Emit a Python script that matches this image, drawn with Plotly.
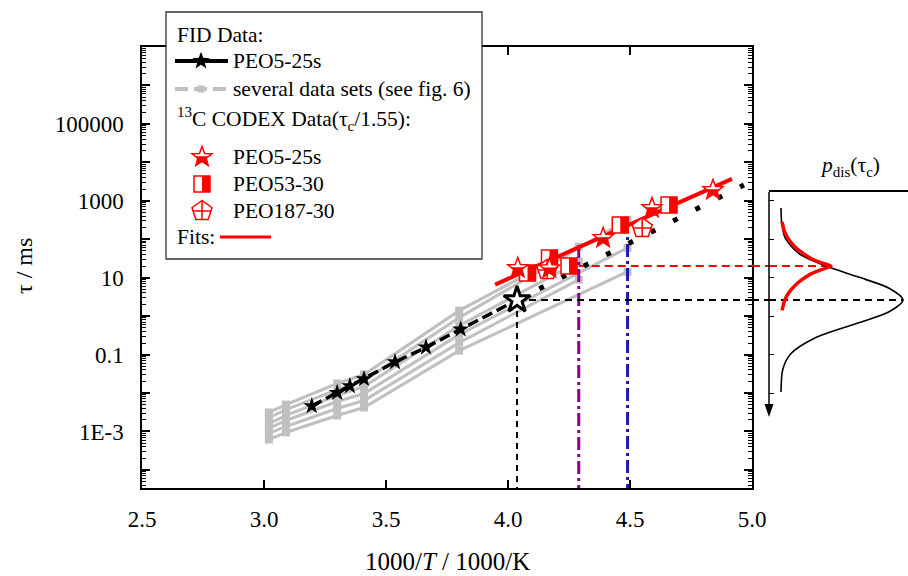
import numpy as np
import plotly.graph_objects as go

# ---------------- data ----------------
# FID data PEO5-25s (1000/T, tau in ms)
fid_x = [3.196, 3.300, 3.352, 3.410, 3.537, 3.664, 3.806, 4.037]
fid_tau = [0.0046, 0.0102, 0.0152, 0.0232, 0.064, 0.155, 0.455, 2.63]
fid_open_x = [4.037]
fid_open_tau = [2.63]
# dotted extrapolation of the FID data
ext_x = [4.037, 4.967]
ext_tau = [2.63, 2570]

# several data sets (see fig. 6)
gray_x_short = [3.02, 3.09, 3.30, 3.41, 3.80, 4.29]
gray_x_long = [3.02, 3.09, 3.30, 3.41, 3.80, 4.49]
gray_1 = [0.00312, 0.00502, 0.0177, 0.0303, 1.39, 63.8]
gray_2 = [0.00231, 0.00372, 0.0123, 0.0211, 0.914, 321]
gray_3 = [0.00161, 0.00261, 0.00861, 0.0148, 0.566, 26.1]
gray_4 = [0.00120, 0.00193, 0.00601, 0.0097, 0.330, 60.1]
gray_5 = [0.000887, 0.00135, 0.00395, 0.00638, 0.205, 8.87]
gray_6 = [0.000619, 0.000942, 0.00261, 0.00420, 0.127, 14.3]

# 13C CODEX data (tau_c / 1.55)
codex5_x = [4.04, 4.17, 4.39, 4.59, 4.84]
codex5_tau = [17.9, 17.5, 108, 650, 1910]
codex53_x = [4.08, 4.17, 4.25, 4.46, 4.66]
codex53_tau = [13.2, 32.5, 20.1, 235, 778]
codex187_x = [4.16, 4.55]
codex187_tau = [15.9, 195]

# fit line
fit_x = [3.947, 4.918]
fit_tau = [6.6, 3700]

# reference lines
ref_black_x = 4.037
ref_black_tau = 2.63
ref_purple_x = 4.29
ref_purple_top = 71
ref_blue_x = 4.49
ref_blue_top = 316
ref_red_tau = 20

# distribution p_dis(tau_c)
dist_black_tau = [646, 263, 105, 41.7, 20, 10.5, 5.25, 2.63, 1.32, 0.66, 0.263, 0.105, 0.0417, 0.0107]
dist_black_p = [0.0, 0.006, 0.036, 0.15, 0.37, 0.63, 0.89, 1.0, 0.89, 0.63, 0.27, 0.08, 0.015, 0.0]
dist_red_tau = [282, 158, 100, 63, 44.7, 31.6, 25.1, 20, 15.8, 12.6, 8.9, 6.3, 3.98, 2.51, 1.41]
dist_red_p = [0.008, 0.029, 0.062, 0.115, 0.172, 0.246, 0.32, 0.41, 0.32, 0.246, 0.172, 0.115, 0.062, 0.029, 0.008]

x_ticks = [2.5, 3.0, 3.5, 4.0, 4.5, 5.0]
y_label_vals = [1e-3, 1e-1, 1e1, 1e3, 1e5]
y_label_text = ["1E-3", "0.1", "10", "1000", "100000"]
y_unlabeled_vals = [1e-4, 1e-2, 1e0, 1e2, 1e4, 1e6]

# ---------------- layout geometry ----------------
W, H = 908, 576
ML, MR, MT, MB = 142, 0, 47, 88
PW = W - ML - MR
PH = H - MT - MB
MAIN_R = 752
INSET_L, INSET_T, INSET_B = 769, 192, 417
Y_RANGE = [-4.47, 7.0]
X_RANGE = [2.5, 5.0]
P_ZERO_PX, P_ONE_PX = 781, 903

def pxp(px):
    return (px - ML) / PW

def pyp(py):
    return (H - MB - py) / PH

main_dom = [0, pxp(MAIN_R)]
inset_dom_x = [pxp(INSET_L), 1.0]
inset_dom_y = [pyp(INSET_B), pyp(INSET_T)]
span = Y_RANGE[1] - Y_RANGE[0]
y2_range = [Y_RANGE[0] + inset_dom_y[0] * span, Y_RANGE[0] + inset_dom_y[1] * span]
p_scale = P_ONE_PX - P_ZERO_PX
x2_range = [(INSET_L - P_ZERO_PX) / p_scale, (W - P_ZERO_PX) / p_scale]
y_bottom = 10 ** Y_RANGE[0]

RED = "#FF0000"
GRAY = "#C0C0C0"
PURPLE = "#8B008B"
BLUE = "#1A1AB0"
FONT = "Liberation Serif, Times New Roman, serif"
TICK_SIZE = 23
TITLE_SIZE = 25
LEG_SIZE = 21.5

fig = go.Figure()

# gray data sets
for xs, ys in [(gray_x_short, gray_1), (gray_x_long, gray_2), (gray_x_short, gray_3),
               (gray_x_long, gray_4), (gray_x_short, gray_5), (gray_x_long, gray_6)]:
    fig.add_trace(go.Scatter(x=xs, y=ys, mode="lines+markers",
                             line=dict(color=GRAY, width=3),
                             marker=dict(symbol="square", size=8, color=GRAY),
                             showlegend=False, hoverinfo="skip"))

# reference vertical lines
fig.add_trace(go.Scatter(x=[ref_black_x, ref_black_x], y=[ref_black_tau, y_bottom], mode="lines",
                         line=dict(color="black", width=2, dash="6px,5px"), showlegend=False))
fig.add_trace(go.Scatter(x=[ref_purple_x, ref_purple_x], y=[ref_purple_top, y_bottom], mode="lines",
                         line=dict(color=PURPLE, width=3, dash="13px,4px,3px,4px"), showlegend=False))
fig.add_trace(go.Scatter(x=[ref_blue_x, ref_blue_x], y=[ref_blue_top, y_bottom], mode="lines",
                         line=dict(color=BLUE, width=3, dash="13px,4px,3px,4px"), showlegend=False))
# horizontal dashed lines (main part)
fig.add_trace(go.Scatter(x=[ref_black_x, X_RANGE[1]], y=[ref_black_tau, ref_black_tau], mode="lines",
                         line=dict(color="black", width=2, dash="7px,5px"), showlegend=False))
fig.add_trace(go.Scatter(x=[ref_purple_x, X_RANGE[1]], y=[ref_red_tau, ref_red_tau], mode="lines",
                         line=dict(color=RED, width=2, dash="8px,5px"), showlegend=False))

# dotted extrapolation
fig.add_trace(go.Scatter(x=ext_x, y=ext_tau, mode="lines",
                         line=dict(color="black", width=5, dash="5px,20px"), showlegend=False))
# FID line + stars
fig.add_trace(go.Scatter(x=fid_x, y=fid_tau, mode="lines",
                         line=dict(color="black", width=3.5, dash="11px,5px"), showlegend=False))
fig.add_trace(go.Scatter(x=fid_x[:-1], y=fid_tau[:-1], mode="markers",
                         marker=dict(symbol="star", size=13, color="black"), showlegend=False))
fig.add_trace(go.Scatter(x=fid_open_x, y=fid_open_tau, mode="markers",
                         marker=dict(symbol="star", size=20, color="white",
                                     line=dict(color="black", width=3)), showlegend=False))
# fit
fig.add_trace(go.Scatter(x=fit_x, y=fit_tau, mode="lines",
                         line=dict(color=RED, width=4), showlegend=False))

# inset curves
fig.add_trace(go.Scatter(x=[x2_range[0], 1.0], y=[ref_black_tau, ref_black_tau], xaxis="x2", yaxis="y2",
                         mode="lines", line=dict(color="black", width=2, dash="7px,5px"), showlegend=False))
fig.add_trace(go.Scatter(x=[x2_range[0], dist_red_p[7]], y=[ref_red_tau, ref_red_tau], xaxis="x2", yaxis="y2",
                         mode="lines", line=dict(color=RED, width=2, dash="8px,5px"), showlegend=False))
fig.add_trace(go.Scatter(x=dist_black_p, y=dist_black_tau, xaxis="x2", yaxis="y2", mode="lines",
                         line=dict(color="black", width=1.6, shape="spline", smoothing=0.8), showlegend=False))
fig.add_trace(go.Scatter(x=dist_red_p, y=dist_red_tau, xaxis="x2", yaxis="y2", mode="lines",
                         line=dict(color=RED, width=3.5, shape="spline", smoothing=0.6), showlegend=False))

# ---------------- marker shapes ----------------
def star_vertices(R, ratio=0.42):
    pts = []
    for k in range(10):
        ang = np.pi / 2 + k * np.pi / 5
        rr = R if k % 2 == 0 else R * ratio
        pts.append((rr * np.cos(ang), rr * np.sin(ang)))
    return pts

def clip_below(pts, c):
    out = []
    n = len(pts)
    for i in range(n):
        p, q = pts[i], pts[(i + 1) % n]
        pin, qin = p[1] <= c, q[1] <= c
        if pin:
            out.append(p)
        if pin != qin:
            t = (c - p[1]) / (q[1] - p[1])
            out.append((p[0] + t * (q[0] - p[0]), c))
    return out

def to_path(pts, close=True):
    s = "M " + " L ".join(f"{x:.2f},{y:.2f}" for x, y in pts)
    return s + (" Z" if close else "")

def marker_shapes(kind, xa, ya, xref, yref):
    base = dict(type="path", xref=xref, yref=yref, xsizemode="pixel", ysizemode="pixel",
                xanchor=xa, yanchor=ya, layer="above")
    out = []
    if kind == "star":
        v = star_vertices(10.5, 0.42)
        out.append(dict(path=to_path(v), fillcolor="white", line=dict(width=0), **base))
        out.append(dict(path=to_path(clip_below(v, 0.8)), fillcolor=RED, line=dict(width=0), **base))
        out.append(dict(path=to_path(v), fillcolor="rgba(0,0,0,0)", line=dict(color=RED, width=1.5), **base))
    elif kind == "square":
        h = 8
        sq = [(-h, -h), (h, -h), (h, h), (-h, h)]
        out.append(dict(path=to_path(sq), fillcolor="white", line=dict(width=0), **base))
        out.append(dict(path=to_path([(0, -h), (h, -h), (h, h), (0, h)]), fillcolor=RED, line=dict(width=0), **base))
        out.append(dict(path=to_path(sq), fillcolor="rgba(0,0,0,0)", line=dict(color=RED, width=1.5), **base))
    elif kind == "pentagon":
        R = 10.5
        v = [(R * np.cos(np.pi / 2 + k * 2 * np.pi / 5), R * np.sin(np.pi / 2 + k * 2 * np.pi / 5)) for k in range(5)]
        out.append(dict(path=to_path(v), fillcolor="white", line=dict(color=RED, width=1.5), **base))
        cross = f"M 0,{R:.2f} L 0,{-R*np.cos(np.pi/5):.2f} M {-0.85*R:.2f},0 L {0.85*R:.2f},0"
        out.append(dict(path=cross, line=dict(color=RED, width=1.5), **base))
    elif kind == "blackstar":
        v = star_vertices(9.2, 0.42)
        out.append(dict(path=to_path(v), fillcolor="black", line=dict(width=0), **base))
    elif kind == "graysquare":
        h = 3.5
        out.append(dict(path=to_path([(-h, -h), (h, -h), (h, h), (-h, h)]), fillcolor=GRAY, line=dict(width=0), **base))
    elif kind == "arrowhead":
        out.append(dict(path="M 0,0 L -4.5,13 L 4.5,13 Z", fillcolor="black", line=dict(width=0), **base))
    return out

shapes = []
for xv, tv in zip(codex53_x, codex53_tau):
    shapes += marker_shapes("square", xv, tv, "x", "y")
for xv, tv in zip(codex187_x, codex187_tau):
    shapes += marker_shapes("pentagon", xv, tv, "x", "y")
for xv, tv in zip(codex5_x, codex5_tau):
    shapes += marker_shapes("star", xv, tv, "x", "y")

# gap pieces of the horizontal dashed lines between main plot and inset
shapes.append(dict(type="line", xref="paper", yref="y", x0=main_dom[1], x1=inset_dom_x[0],
                   y0=ref_black_tau, y1=ref_black_tau, line=dict(color="black", width=2, dash="7px,5px")))
shapes.append(dict(type="line", xref="paper", yref="y", x0=main_dom[1], x1=inset_dom_x[0],
                   y0=ref_red_tau, y1=ref_red_tau, line=dict(color=RED, width=2, dash="8px,5px")))

# inset axis line with arrow pointing down
shapes.append(dict(type="line", xref="paper", yref="paper", x0=inset_dom_x[0], x1=inset_dom_x[0],
                   y0=inset_dom_y[1], y1=pyp(INSET_B - 8), line=dict(color="black", width=1.5), layer="above"))
shapes += marker_shapes("arrowhead", inset_dom_x[0], inset_dom_y[0], "paper", "paper")

# ---------------- manual legend ----------------
shapes.append(dict(type="rect", xref="paper", yref="paper", x0=pxp(166), x1=pxp(482), y0=pyp(259), y1=pyp(12),
                   fillcolor="white", line=dict(color="#333333", width=1.3), layer="above"))
shapes.append(dict(type="line", xref="paper", yref="paper", x0=pxp(175), x1=pxp(228), y0=pyp(61), y1=pyp(61),
                   line=dict(color="black", width=4), layer="above"))
shapes += marker_shapes("blackstar", pxp(201), pyp(61), "paper", "paper")
shapes.append(dict(type="line", xref="paper", yref="paper", x0=pxp(175), x1=pxp(228), y0=pyp(89), y1=pyp(89),
                   line=dict(color=GRAY, width=4, dash="13px,6px"), layer="above"))
shapes += marker_shapes("graysquare", pxp(201), pyp(89), "paper", "paper")
shapes += marker_shapes("star", pxp(202), pyp(157), "paper", "paper")
shapes += marker_shapes("square", pxp(202), pyp(184), "paper", "paper")
shapes += marker_shapes("pentagon", pxp(202), pyp(211), "paper", "paper")
shapes.append(dict(type="line", xref="paper", yref="paper", x0=pxp(220), x1=pxp(271), y0=pyp(237), y1=pyp(237),
                   line=dict(color=RED, width=3), layer="above"))

annotations = []
def txt(s, px, py, size=LEG_SIZE, **kw):
    d = dict(text=s, xref="paper", yref="paper", x=pxp(px), y=pyp(py), showarrow=False,
             xanchor="left", yanchor="middle", font=dict(family=FONT, size=size, color="black"))
    d.update(kw)
    annotations.append(d)

txt("FID Data:", 175, 35)
txt("PEO5-25s", 231, 61)
txt("several data sets (see fig. 6)", 231, 89)
txt("<sup>13</sup>C CODEX Data(τ<sub>c</sub>/1.55):", 175, 119)
txt("PEO5-25s", 231, 157)
txt("PEO53-30", 231, 184)
txt("PEO187-30", 231, 211)
txt("Fits:", 175, 237)

# axis titles
txt("τ / ms", 24, 266, size=24, xanchor="center", textangle=-90)
txt("1000/<i>T</i> / 1000/K", 447, 561, size=TITLE_SIZE, xanchor="center")
# inset title
txt("<i>p</i><sub>dis</sub>(τ<sub>c</sub>)", 850, 166, size=LEG_SIZE, xanchor="center")

# ---------------- axes ----------------
minor_vals = [k * 10.0 ** n for n in range(-5, 8) for k in range(2, 10)]

fig.update_layout(
    template="none",
    autosize=False,
    width=W, height=H,
    margin=dict(l=ML, r=MR, t=MT, b=MB, pad=0, autoexpand=False),
    paper_bgcolor="white", plot_bgcolor="white",
    font=dict(family=FONT, size=TICK_SIZE, color="black"),
    showlegend=False,
    xaxis=dict(domain=main_dom, range=X_RANGE, tickvals=x_ticks, ticktext=[f"{v:.1f}" for v in x_ticks],
               ticks="inside", ticklen=8, tickwidth=1.5, tickcolor="black",
               showline=True, linewidth=1.5, linecolor="black", mirror="ticks",
               showgrid=False, zeroline=False, ticklabelstandoff=10, automargin=False,
               tickfont=dict(family=FONT, size=TICK_SIZE)),
    yaxis=dict(type="log", range=Y_RANGE, tickvals=y_label_vals, ticktext=y_label_text,
               ticks="inside", ticklen=8, tickwidth=1.5, tickcolor="black",
               showline=True, linewidth=1.5, linecolor="black", mirror="ticks",
               showgrid=False, zeroline=False, ticklabelstandoff=12, automargin=False,
               minor=dict(ticks="inside", ticklen=4, tickvals=minor_vals, tickcolor="black", tickwidth=1, showgrid=False),
               tickfont=dict(family=FONT, size=TICK_SIZE)),
    yaxis3=dict(type="log", range=Y_RANGE, overlaying="y", anchor="x", side="left",
                tickvals=y_unlabeled_vals, showticklabels=False,
                ticks="inside", ticklen=8, tickwidth=1.5, tickcolor="black",
                showline=False, mirror="ticks", showgrid=False, zeroline=False, automargin=False),
    xaxis2=dict(domain=inset_dom_x, range=x2_range, anchor="y2", side="top", showline=True,
                linewidth=1.5, linecolor="black", showticklabels=False, ticks="",
                showgrid=False, zeroline=False, automargin=False),
    yaxis2=dict(domain=inset_dom_y, range=y2_range, type="log", anchor="x2", showline=False,
                showticklabels=False, ticks="inside", ticklen=5, tickcolor="black", tickwidth=1,
                tickvals=[10.0 ** n for n in range(-2, 4)], showgrid=False, zeroline=False, automargin=False),
    shapes=shapes,
    annotations=annotations,
)
# invisible trace to activate the overlay axis carrying the unlabeled decade ticks
fig.add_trace(go.Scatter(x=[X_RANGE[0]], y=[1.0], yaxis="y3", mode="markers",
                         marker=dict(opacity=0), showlegend=False, hoverinfo="skip"))

fig.write_html("out.html")
